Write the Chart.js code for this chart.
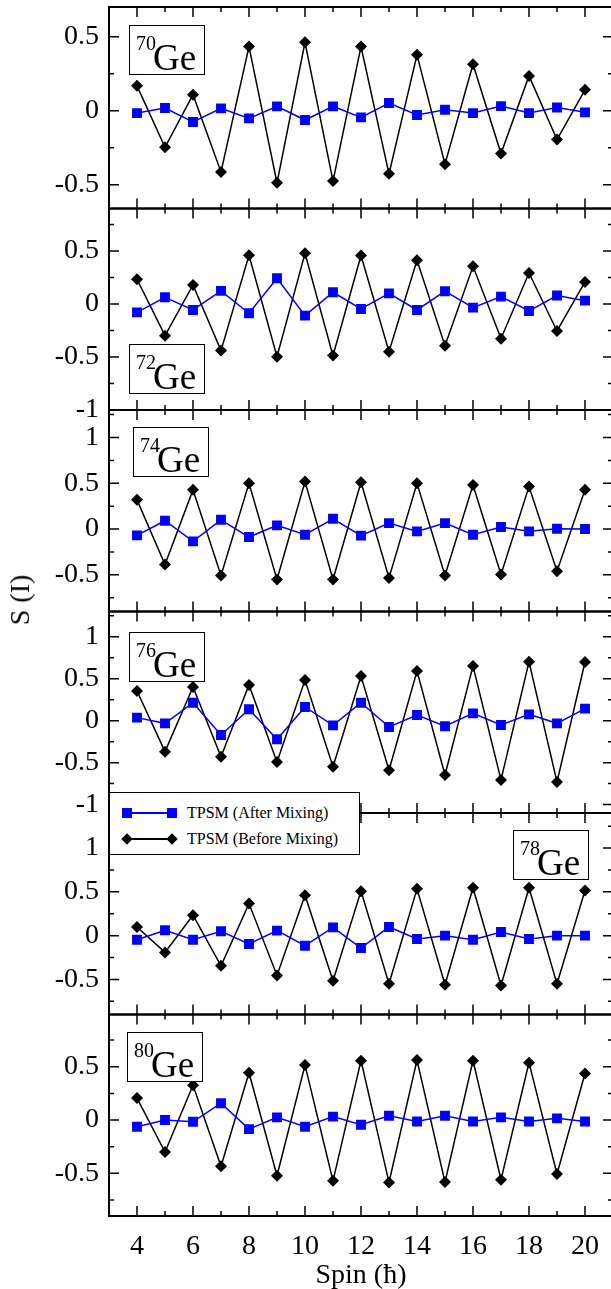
<!DOCTYPE html>
<html>
<head>
<meta charset="utf-8">
<script src="https://cdn.jsdelivr.net/npm/chart.js@4.4.1/dist/chart.umd.min.js"></script>
<style>
  html, body { margin: 0; padding: 0; background: #fff; overflow: hidden; }
  #wrap { position: relative; width: 611px; height: 1289px; overflow: hidden; font-family: "Liberation Serif", "Times New Roman", serif; }
  #chart { position: absolute; left: 0; top: 0; }
  .iso { position: absolute; width: 76px; height: 50px; box-sizing: border-box; border: 1.5px solid #000; background: #fff; }
  .iso .mass { position: absolute; left: 6px; top: 7px; font-size: 20px; line-height: 20px; }
  .iso .el { position: absolute; left: 23px; top: 13px; font-size: 37px; line-height: 37px; }
  #legend { position: absolute; left: 109px; top: 792px; width: 251px; height: 63px; box-sizing: border-box; border: 1.5px solid #000; background: #fff; }
  #legend .row { position: absolute; left: 0; height: 20px; width: 100%; }
  #legend .ln { position: absolute; left: 17px; width: 45px; top: 9px; height: 1.5px; }
  #legend .mk { position: absolute; }
  #legend .txt { position: absolute; left: 77px; top: 0; font-size: 16px; line-height: 20px; white-space: nowrap; }
  #ytitle { position: absolute; left: 20px; top: 600px; transform: translate(-50%, -50%) rotate(-90deg); font-size: 28px; white-space: nowrap; }
</style>
</head>
<body>
<div id="wrap">
  <canvas id="chart" width="615" height="1289"></canvas>
  <div id="ytitle">S (I)</div>
</div>
<script>
const spins = [4, 5, 6, 7, 8, 9, 10, 11, 12, 13, 14, 15, 16, 17, 18, 19, 20];
const xTickLabels = [4, 6, 8, 10, 12, 14, 16, 18, 20];
const isotopes = ["70", "72", "74", "76", "78", "80"];
const seriesNames = ["TPSM (After Mixing)", "TPSM (Before Mixing)"];

const after70 = [-0.016, 0.018, -0.076, 0.016, -0.052, 0.029, -0.063, 0.029, -0.045, 0.052, -0.029, 0.007, -0.016, 0.031, -0.016, 0.022, -0.011];
const before70 = [0.168, -0.247, 0.108, -0.413, 0.433, -0.487, 0.462, -0.475, 0.433, -0.426, 0.377, -0.361, 0.314, -0.289, 0.235, -0.195, 0.141];
const after72 = [-0.079, 0.063, -0.057, 0.123, -0.088, 0.242, -0.11, 0.11, -0.047, 0.1, -0.057, 0.12, -0.035, 0.069, -0.066, 0.079, 0.031];
const before72 = [0.233, -0.299, 0.179, -0.44, 0.459, -0.497, 0.478, -0.487, 0.456, -0.45, 0.412, -0.393, 0.355, -0.327, 0.292, -0.255, 0.208];
const after74 = [-0.069, 0.091, -0.134, 0.101, -0.087, 0.04, -0.062, 0.112, -0.072, 0.065, -0.025, 0.065, -0.062, 0.022, -0.025, 0.004, 0];
const before74 = [0.319, -0.388, 0.428, -0.507, 0.5, -0.551, 0.518, -0.551, 0.511, -0.533, 0.5, -0.507, 0.482, -0.496, 0.464, -0.46, 0.428];
const after76 = [0.036, -0.032, 0.214, -0.171, 0.135, -0.222, 0.163, -0.056, 0.214, -0.075, 0.067, -0.067, 0.087, -0.052, 0.075, -0.032, 0.143];
const before76 = [0.353, -0.369, 0.4, -0.429, 0.425, -0.492, 0.484, -0.548, 0.532, -0.591, 0.591, -0.647, 0.651, -0.706, 0.702, -0.73, 0.698];
const after78 = [-0.046, 0.061, -0.046, 0.05, -0.095, 0.057, -0.115, 0.095, -0.141, 0.099, -0.038, 0, -0.046, 0.042, -0.038, 0, 0];
const before78 = [0.099, -0.191, 0.233, -0.344, 0.366, -0.454, 0.462, -0.515, 0.508, -0.55, 0.534, -0.561, 0.546, -0.569, 0.546, -0.55, 0.515];
const after80 = [-0.063, 0, -0.016, 0.158, -0.085, 0.025, -0.063, 0.032, -0.044, 0.041, -0.013, 0.041, -0.013, 0.025, -0.013, 0.016, -0.013];
const before80 = [0.206, -0.3, 0.326, -0.434, 0.443, -0.522, 0.516, -0.57, 0.557, -0.585, 0.563, -0.582, 0.557, -0.56, 0.538, -0.506, 0.437];

const yMin = [-0.66, -1.0, -0.9, -1.1, -0.9, -0.9];
const yMax = [0.7, 0.9, 1.3, 1.3, 1.4, 0.99];

const afterSets = [after70, after72, after74, after76, after78, after80];
const beforeSets = [before70, before72, before74, before76, before78, before80];

const FONT = "'Liberation Serif', 'Times New Roman', serif";
const BLUE = "#0000ff";

// isotope boxes, placed per panel
const isoPos = [[129, 25], [129, 344], [133, 427], [129, 632], [513, 830], [127, 1032]];
const wrap = document.getElementById("wrap");
isotopes.forEach((a, i) => {
  const d = document.createElement("div");
  d.className = "iso";
  d.style.left = isoPos[i][0] + "px";
  d.style.top = isoPos[i][1] + "px";
  d.innerHTML = `<span class="mass">${a}</span><span class="el">Ge</span>`;
  wrap.appendChild(d);
});

// legend
const legend = document.createElement("div");
legend.id = "legend";
seriesNames.forEach((name, i) => {
  const row = document.createElement("div");
  row.className = "row";
  row.style.top = (i === 0 ? 10 : 36) + "px";
  const color = i === 0 ? BLUE : "#000";
  let html = `<span class="ln" style="background:${color}"></span>`;
  [17, 62].forEach(cx => {
    if (i === 0) {
      html += `<span class="mk" style="left:${cx - 5}px;top:5px;width:10px;height:10px;background:${BLUE}"></span>`;
    } else {
      html += `<span class="mk" style="left:${cx - 4}px;top:6px;width:8px;height:8px;background:#000;transform:rotate(45deg)"></span>`;
    }
  });
  html += `<span class="txt">${name}</span>`;
  row.innerHTML = html;
  legend.appendChild(row);
});
wrap.appendChild(legend);

const datasets = [];
const scales = {
  x: {
    type: "linear",
    min: 3,
    max: 21,
    grid: { display: false },
    border: { display: false },
    ticks: {
      stepSize: 1,
      autoSkip: false,
      maxRotation: 0,
      padding: 6,
      color: "#000",
      font: { family: FONT, size: 28 },
      callback: (v) => (xTickLabels.includes(v) ? String(v) : ""),
    },
    title: { display: true, text: "Spin (ħ)", color: "#000", font: { family: FONT, size: 28 }, padding: { top: 0, bottom: -3 } },
    afterFit: (s) => { s.height = 73; s.paddingLeft = 0; s.paddingRight = 0; },
  },
};

isotopes.forEach((a, i) => {
  const id = "y" + i;
  scales[id] = {
    type: "linear",
    position: "left",
    stack: "panels",
    stackWeight: 1,
    weight: 10 - i,
    min: yMin[i],
    max: yMax[i],
    grid: { display: false, drawTicks: false },
    border: { display: false },
    ticks: {
      autoSkip: false,
      padding: 10,
      color: "#000",
      font: { family: FONT, size: 28 },
      callback: (v) => (Math.abs(v * 2 - Math.round(v * 2)) < 1e-6 ? String(v) : ""),
    },
    afterBuildTicks: (s) => {
      const t = [];
      for (let k = Math.ceil(yMin[i] * 4); k <= Math.floor(yMax[i] * 4); k++) t.push({ value: k / 4 });
      s.ticks = t;
    },
    afterFit: (s) => { s.width = 109; s.paddingTop = 0; s.paddingBottom = 0; },
  };
  datasets.push({
    label: seriesNames[0],
    data: spins.map((x, k) => ({ x, y: afterSets[i][k] })),
    yAxisID: id,
    borderColor: BLUE,
    backgroundColor: BLUE,
    borderWidth: 1.5,
    pointStyle: "rect",
    pointRadius: 7,
    pointBorderWidth: 0,
    order: 1,
  });
  datasets.push({
    label: seriesNames[1],
    data: spins.map((x, k) => ({ x, y: beforeSets[i][k] })),
    yAxisID: id,
    borderColor: "#000",
    backgroundColor: "#000",
    borderWidth: 1.5,
    pointStyle: "rectRot",
    pointRadius: 6,
    pointBorderWidth: 0,
    order: 2,
  });
});

// panel frames with inward ticks on all four sides
const frameTicks = {
  id: "frameTicks",
  afterDatasetsDraw(chart) {
    const ctx = chart.ctx;
    const { left, right } = chart.chartArea;
    const xs = chart.scales.x;
    ctx.save();
    ctx.strokeStyle = "#000";
    isotopes.forEach((a, i) => {
      const ys = chart.scales["y" + i];
      const top = ys.top, bottom = ys.bottom;
      ctx.lineWidth = 1.5;
      ctx.beginPath();
      ys.ticks.forEach((t) => {
        const py = ys.getPixelForValue(t.value);
        const len = Math.abs(t.value * 2 - Math.round(t.value * 2)) < 1e-6 ? 10 : 5;
        ctx.moveTo(left, py); ctx.lineTo(left + len, py);
        ctx.moveTo(right, py); ctx.lineTo(right - len, py);
      });
      xs.ticks.forEach((t) => {
        const px = xs.getPixelForValue(t.value);
        const len = t.value % 2 === 0 ? 10 : 5;
        ctx.moveTo(px, top); ctx.lineTo(px, top + len);
        ctx.moveTo(px, bottom); ctx.lineTo(px, bottom - len);
      });
      ctx.stroke();
      ctx.lineWidth = 2;
      ctx.strokeRect(left, top, right - left, bottom - top);
    });
    ctx.restore();
  },
};

new Chart(document.getElementById("chart"), {
  type: "line",
  data: { datasets },
  options: {
    responsive: false,
    animation: false,
    devicePixelRatio: 1,
    layout: { autoPadding: false, padding: { top: 7, right: 2, left: 0, bottom: 0 } },
    plugins: { legend: { display: false }, tooltip: { enabled: false } },
    scales,
  },
  plugins: [frameTicks],
});
</script>
</body>
</html>
